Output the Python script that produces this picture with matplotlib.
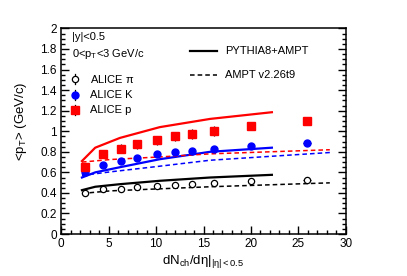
import numpy as np
import matplotlib
matplotlib.use('Agg')
import matplotlib.pyplot as plt
from matplotlib.ticker import MultipleLocator

plt.rcParams['font.family'] = ['Liberation Sans', 'DejaVu Sans']
plt.rcParams['mathtext.fontset'] = 'custom'
plt.rcParams['mathtext.rm'] = 'Liberation Sans'
plt.rcParams['mathtext.it'] = 'Liberation Sans'

# ALICE data
x_data = [2.55, 4.45, 6.3, 7.97, 10.07, 12.0, 13.76, 16.1, 19.97, 25.9]
pi_y = [0.401, 0.434, 0.443, 0.453, 0.466, 0.479, 0.485, 0.498, 0.517, 0.530]
pi_err = [0.012, 0.012, 0.012, 0.012, 0.012, 0.012, 0.012, 0.012, 0.012, 0.014]
k_y = [0.605, 0.675, 0.715, 0.744, 0.774, 0.796, 0.812, 0.832, 0.861, 0.890]
k_err = [0.02, 0.02, 0.02, 0.02, 0.02, 0.02, 0.02, 0.02, 0.02, 0.02]
p_y = [0.653, 0.777, 0.832, 0.874, 0.913, 0.951, 0.974, 1.003, 1.051, 1.104]
p_err = [0.03, 0.035, 0.045, 0.045, 0.045, 0.045, 0.045, 0.045, 0.04, 0.035]
x_err = [0, 0, 0, 0, 0, 0, 0, 0, 0, 0.45]

# PYTHIA8+AMPT (solid)
x_sol = [2.2, 3.6, 6.2, 10.4, 15.7, 22.2]
pi_sol = [0.427, 0.46, 0.485, 0.518, 0.55, 0.576]
k_sol = [0.55, 0.60, 0.65, 0.728, 0.80, 0.84]
p_sol = [0.71, 0.84, 0.935, 1.04, 1.12, 1.185]

# AMPT v2.26t9 (dashed)
x_dash = [2.2, 5.2, 10.4, 15.7, 28.3]
pi_dash = [0.395, 0.42, 0.44, 0.46, 0.498]
k_dash = [0.57, 0.605, 0.66, 0.718, 0.793]
p_dash = [0.70, 0.725, 0.75, 0.78, 0.82]

fig = plt.figure(figsize=(4.07, 2.76), dpi=100)
ax = fig.add_axes([0.150, 0.152, 0.700, 0.745])

red = '#ff0000'
blue = '#0000ff'

ax.plot(x_sol, p_sol, color=red, lw=1.6)
ax.plot(x_sol, k_sol, color=blue, lw=1.6)
ax.plot(x_sol, pi_sol, color='black', lw=1.6)
ax.plot(x_dash, p_dash, color=red, lw=1.1, ls=(0, (3, 2)))
ax.plot(x_dash, k_dash, color=blue, lw=1.1, ls=(0, (3, 2)))
ax.plot(x_dash, pi_dash, color='black', lw=1.1, ls=(0, (3, 2)))

ax.errorbar(x_data, pi_y, yerr=pi_err, xerr=x_err, fmt='o', mfc='white', mec='black',
            ms=4.5, mew=0.9, ecolor='black', elinewidth=0.9, capsize=0, zorder=5)
ax.errorbar(x_data, k_y, yerr=k_err, xerr=x_err, fmt='o', mfc=blue, mec=blue,
            ms=5, ecolor='black', elinewidth=0.9, capsize=0, zorder=5)
ax.errorbar(x_data, p_y, yerr=p_err, xerr=x_err, fmt='s', mfc=red, mec=red,
            ms=5.5, ecolor='black', elinewidth=0.9, capsize=0, zorder=5)

ax.set_xlim(0, 30)
ax.set_ylim(0, 2)
ax.xaxis.set_major_locator(MultipleLocator(5))
ax.xaxis.set_minor_locator(MultipleLocator(1))
ax.yaxis.set_major_locator(MultipleLocator(0.2))
ax.yaxis.set_minor_locator(MultipleLocator(0.05))
ax.set_yticks(np.arange(0, 2.01, 0.2))
ax.set_yticklabels(['0', '0.2', '0.4', '0.6', '0.8', '1', '1.2', '1.4', '1.6', '1.8', '2'])
ax.tick_params(which='both', direction='in', right=True, top=False, labelsize=8.5, pad=3)
ax.tick_params(which='major', length=6, width=1)
ax.tick_params(which='minor', length=3, width=1)
for s in ax.spines.values():
    s.set_linewidth(1.1)

ax.set_xlabel(r'dN$_{\rm ch}$/d$\eta$|$_{|\eta|<0.5}$', fontsize=9.5, labelpad=2)
ax.set_ylabel(r'<p$_{\rm T}$> (GeV/c)', fontsize=9.5, labelpad=8, y=0.55)

# text annotations
fig.text(72 / 407, 1 - 37 / 276, '|y|<0.5', fontsize=8, va='center')
fig.text(72 / 407, 1 - 54 / 276, r'0<p$_{\rm T}$<3 GeV/c', fontsize=8, va='center')

# marker legend
leg_y = [79, 95, 110]
leg_lab = [r'ALICE $\pi$', 'ALICE K', 'ALICE p']
leg_sty = [dict(marker='o', mfc='white', mec='black', ms=4.5, mew=0.9),
           dict(marker='o', mfc=blue, mec=blue, ms=5),
           dict(marker='s', mfc=red, mec=red, ms=5.5)]
for yy, lab, st in zip(leg_y, leg_lab, leg_sty):
    fy = 1 - yy / 276
    fig.add_artist(plt.Line2D([75 / 407, 75 / 407], [fy - 0.017, fy + 0.017], color='black', lw=0.9))
    fig.add_artist(plt.Line2D([75 / 407], [fy], ls='none', **st))
    fig.text(90 / 407, fy, lab, fontsize=8, va='center')

# line legend
fy = 1 - 51 / 276
fig.add_artist(plt.Line2D([190 / 407, 217 / 407], [fy, fy], color='black', lw=1.6))
fig.text(225 / 407, fy, 'PYTHIA8+AMPT', fontsize=8, va='center')
fy = 1 - 75 / 276
fig.add_artist(plt.Line2D([190 / 407, 217 / 407], [fy, fy], color='black', lw=1.1, ls=(0, (3, 2))))
fig.text(225 / 407, fy, 'AMPT v2.26t9', fontsize=8, va='center')

fig.savefig('out.png', dpi=100)
